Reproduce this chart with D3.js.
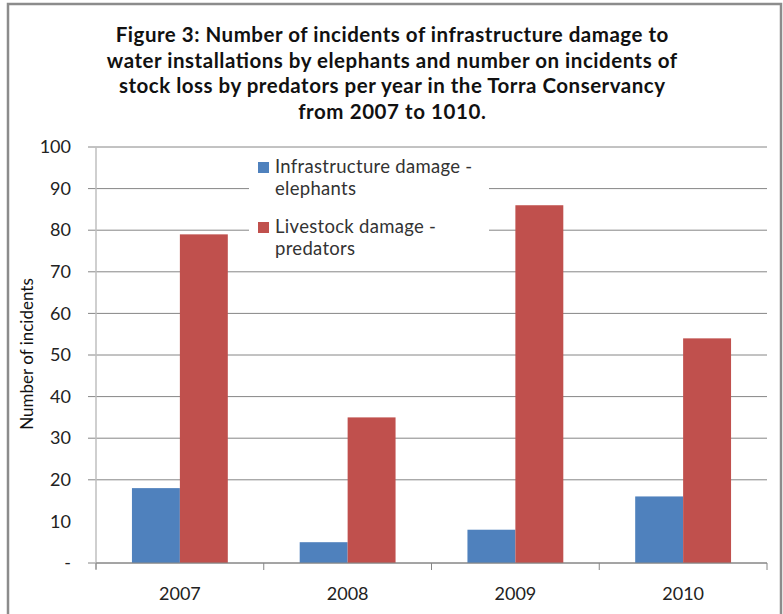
<!DOCTYPE html>
<html>
<head>
<meta charset="utf-8">
<script src="https://cdn.jsdelivr.net/npm/d3@7"></script>
<style>
  body { margin: 0; background: #fff; }
  svg { display: block; font-family: Lato, "Open Sans", sans-serif; }
</style>
</head>
<body>
<div id="chart"></div>
<script>
// chart data
const years = ["2007", "2008", "2009", "2010"];
const seriesNames = ["Infrastructure damage - elephants", "Livestock damage - predators"];
const elephants = [18, 5, 8, 16];
const predators = [79, 35, 86, 54];
const yTicks = [0, 10, 20, 30, 40, 50, 60, 70, 80, 90, 100];
const titleLines = [
  "Figure 3: Number of incidents of infrastructure damage to",
  "water installations by elephants and number on incidents of",
  "stock loss by predators per year in the Torra Conservancy",
  "from 2007 to 1010."
];
const colors = ["#4F81BD", "#C0504D"];

const W = 783, H = 614;
const plot = { left: 96, right: 767, top: 147, bottom: 563 };

const svg = d3.select('#chart').append('svg')
  .attr('width', W).attr('height', H);

// outer frame
svg.append('rect')
  .attr('x', 8).attr('y', 4)
  .attr('width', 773).attr('height', 620)
  .attr('fill', 'none').attr('stroke', '#8c8c8c').attr('stroke-width', 2.5);

// title, stretched a bit to match the wider original lines
svg.append('g').selectAll('text')
  .data(titleLines).enter().append('text')
  .attr('x', 392).attr('y', (d, i) => 42 + i * 25.7)
  .attr('text-anchor', 'middle')
  .style('font-size', '20.5px').style('font-weight', 'bold').style('fill', '#111')
  .text(d => d)
  .each(function () {
    const len = this.getComputedTextLength();
    d3.select(this).attr('textLength', len * 1.055).attr('lengthAdjust', 'spacing');
  });

const x = d3.scaleBand().domain(years).range([plot.left, plot.right]).padding(0);
const gap = x.bandwidth() * 1.5 / 3.5;
const xs = d3.scaleBand().domain([0, 1]).range([gap / 2, x.bandwidth() - gap / 2]);
const y = d3.scaleLinear().domain([0, 100]).range([plot.bottom, plot.top]);

// gridlines (the reference shows none at 10)
svg.append('g').selectAll('line')
  .data(yTicks.filter(d => d !== 10)).enter().append('line')
  .attr('x1', plot.left - 8).attr('x2', plot.right)
  .attr('y1', d => y(d)).attr('y2', d => y(d))
  .attr('stroke', '#868686').attr('stroke-width', 1);

// y axis
const yAxis = d3.axisLeft(y).tickValues(yTicks).tickSize(0).tickPadding(25)
  .tickFormat(d => d === 0 ? '-' : d);
const gy = svg.append('g').attr('transform', `translate(${plot.left},0)`).call(yAxis);
gy.select('.domain').remove();
gy.selectAll('text').style('font-size', '18px').style('fill', '#222')
  .style('font-family', 'Lato, sans-serif');
svg.append('line')
  .attr('x1', plot.left).attr('x2', plot.left)
  .attr('y1', plot.top).attr('y2', plot.bottom + 6)
  .attr('stroke', '#bfbfbf').attr('stroke-width', 1.5);

// y title
svg.append('text')
  .attr('transform', 'translate(33,354) rotate(-90)')
  .attr('text-anchor', 'middle')
  .style('font-size', '17px').style('fill', '#111')
  .text('Number of incidents');

// bars
const rows = years.map((yr, i) => ({ year: yr, values: [elephants[i], predators[i]] }));
const groups = svg.append('g').selectAll('g')
  .data(rows).enter().append('g')
  .attr('transform', d => `translate(${x(d.year)},0)`);
groups.selectAll('rect')
  .data(d => d.values).enter().append('rect')
  .attr('x', (d, i) => xs(i))
  .attr('width', xs.bandwidth())
  .attr('y', d => y(d))
  .attr('height', d => y(0) - y(d))
  .attr('fill', (d, i) => colors[i]);

// x axis
const xAxis = d3.axisBottom(x).tickSize(0).tickPadding(24);
const gx = svg.append('g').attr('transform', `translate(0,${plot.bottom})`).call(xAxis);
gx.select('.domain').remove();
gx.selectAll('text').style('font-size', '18px').style('fill', '#222')
  .style('font-family', 'Lato, sans-serif');
svg.append('line')
  .attr('x1', plot.left).attr('x2', plot.right)
  .attr('y1', plot.bottom).attr('y2', plot.bottom)
  .attr('stroke', '#868686').attr('stroke-width', 1);
svg.append('g').selectAll('line')
  .data(years.map(d => x(d)).concat([plot.right])).enter().append('line')
  .attr('x1', d => d).attr('x2', d => d)
  .attr('y1', plot.bottom).attr('y2', plot.bottom + 7)
  .attr('stroke', '#868686').attr('stroke-width', 1);

// legend
const legend = svg.append('g');
legend.append('rect')
  .attr('x', 249).attr('y', 152).attr('width', 240).attr('height', 112)
  .attr('fill', '#fff');
const legendLines = [["Infrastructure damage -", "elephants"], ["Livestock damage -", "predators"]];
seriesNames.forEach((name, i) => {
  const top = 162 + i * 60;
  legend.append('rect')
    .attr('x', 258).attr('y', top).attr('width', 11).attr('height', 11)
    .attr('fill', colors[i]);
  legendLines[i].forEach((ln, j) => {
    legend.append('text')
      .attr('x', 275).attr('y', top + 11 + j * 22)
      .style('font-size', '18.5px').style('letter-spacing', '0.3px').style('fill', '#333')
      .text(ln);
  });
});
</script>
</body>
</html>
